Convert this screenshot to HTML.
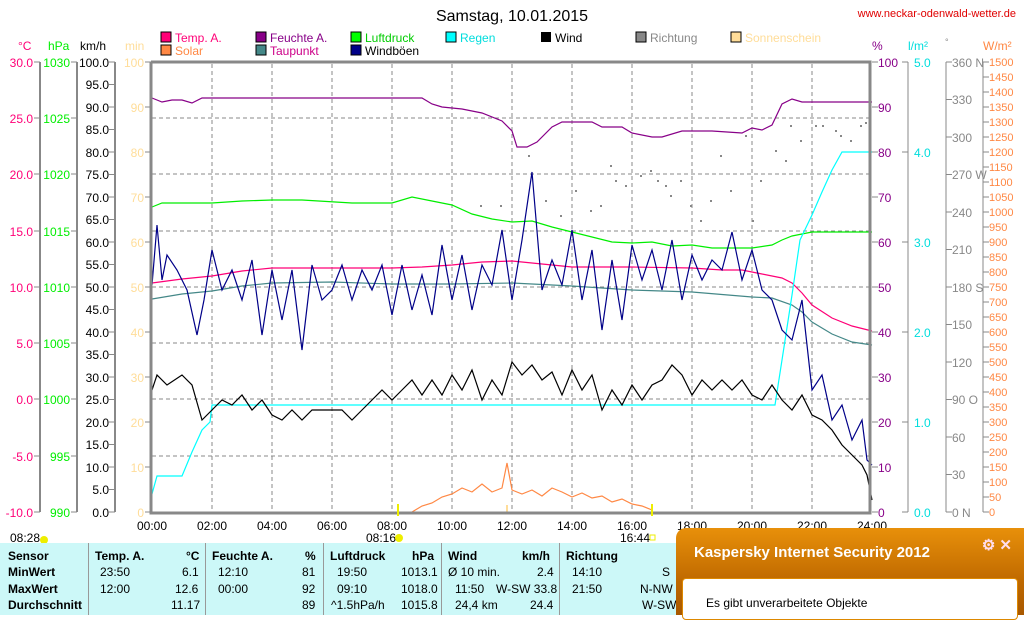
<!DOCTYPE html>
<html><head><meta charset="utf-8"><style>
body{margin:0;width:1024px;height:615px;overflow:hidden;background:#fff;font-family:"Liberation Sans",sans-serif;position:relative}
svg{position:absolute;left:0;top:0}
.tb{position:absolute;left:0;top:543px;width:1024px;height:72px;background:#ccf8f8;font-size:12px}
.tb div{position:absolute}
.b{font-weight:bold}
.kas{position:absolute;left:676px;top:528px;width:348px;height:87px;border-radius:10px 0 0 0;background:linear-gradient(#e8900a,#c06a00 60%,#a85800)}
</style></head><body>
<svg width="1024" height="615" font-family="Liberation Sans, sans-serif" font-size="12">
<text x="512" y="21" font-size="16" text-anchor="middle">Samstag, 10.01.2015</text>
<text x="1016" y="17" font-size="11" fill="#e00000" text-anchor="end">www.neckar-odenwald-wetter.de</text>
<g font-size="12">
<rect x="161" y="32" width="10" height="10" fill="#f07" stroke="#000"/><text x="175" y="42" fill="#f07">Temp. A.</text>
<rect x="161" y="45" width="10" height="10" fill="#f84" stroke="#000"/><text x="175" y="55" fill="#f84">Solar</text>
<rect x="256" y="32" width="10" height="10" fill="#808" stroke="#000"/><text x="270" y="42" fill="#808">Feuchte A.</text>
<rect x="256" y="45" width="10" height="10" fill="#488" stroke="#000"/><text x="270" y="55" fill="#c08">Taupunkt</text>
<rect x="351" y="32" width="10" height="10" fill="#0f0" stroke="#000"/><text x="365" y="42" fill="#0c0">Luftdruck</text>
<rect x="351" y="45" width="10" height="10" fill="#008" stroke="#000"/><text x="365" y="55">Windböen</text>
<rect x="446" y="32" width="10" height="10" fill="#0ff" stroke="#000"/><text x="460" y="42" fill="#0dd">Regen</text>
<rect x="541" y="32" width="10" height="10" fill="#000"/><text x="555" y="42">Wind</text>
<rect x="636" y="32" width="10" height="10" fill="#888" stroke="#000"/><text x="650" y="42" fill="#888">Richtung</text>
<rect x="731" y="32" width="10" height="10" fill="#fd9" stroke="#000"/><text x="745" y="42" fill="#fd9">Sonnenschein</text>
</g>
<!-- axis headers -->
<text x="18" y="50" fill="#f07">°C</text><text x="48" y="50" fill="#0e0">hPa</text><text x="80" y="50">km/h</text><text x="125" y="50" fill="#fd9">min</text>
<text x="872" y="50" fill="#808">%</text><text x="908" y="50" fill="#0dd">l/m²</text><text x="945" y="45" fill="#888" font-size="9">°</text><text x="983" y="50" fill="#f84">W/m²</text>
<!-- grid -->
<g stroke="#888" stroke-dasharray="4,3" stroke-width="1">
<path d="M152 118H870M152 174H870M152 231H870M152 287H870M152 343H870M152 399H870M152 456H870"/>
<path d="M212 64V510M272 64V510M332 64V510M392 64V510M452 64V510M512 64V510M572 64V510M632 64V510M692 64V510M752 64V510M812 64V510"/>
</g>
<!-- left axes -->
<g stroke="#888" stroke-width="2" fill="none">
<path d="M40 62V512M77 62V512M115 62V512"/>
</g>
<g stroke="#888" stroke-width="1">
<path d="M34 62H40M34 118H40M34 174H40M34 231H40M34 287H40M34 343H40M34 399H40M34 456H40M34 512H40"/>
<path d="M71 62H77M71 118H77M71 174H77M71 231H77M71 287H77M71 343H77M71 399H77M71 456H77M71 512H77"/>
<path d="M109 62H115M109 84.5H115M109 107H115M109 129.5H115M109 152H115M109 174.5H115M109 197H115M109 219.5H115M109 242H115M109 264.5H115M109 287H115M109 309.5H115M109 332H115M109 354.5H115M109 377H115M109 399.5H115M109 422H115M109 444.5H115M109 467H115M109 489.5H115M109 512H115"/>
<path d="M145 62H151M145 107H151M145 152H151M145 197H151M145 242H151M145 287H151M145 332H151M145 377H151M145 422H151M145 467H151M145 512H151"/>
</g>
<g fill="#f07" text-anchor="end">
<text x="33" y="67">30.0</text><text x="33" y="123">25.0</text><text x="33" y="179">20.0</text><text x="33" y="236">15.0</text><text x="33" y="292">10.0</text><text x="33" y="348">5.0</text><text x="33" y="404">0.0</text><text x="33" y="461">-5.0</text><text x="33" y="517">-10.0</text></g>
<g fill="#0e0" text-anchor="end">
<text x="70" y="67">1030</text><text x="70" y="123">1025</text><text x="70" y="179">1020</text><text x="70" y="236">1015</text><text x="70" y="292">1010</text><text x="70" y="348">1005</text><text x="70" y="404">1000</text><text x="70" y="461">995</text><text x="70" y="517">990</text></g>
<g text-anchor="end">
<text x="109" y="67">100.0</text><text x="109" y="89">95.0</text><text x="109" y="112">90.0</text><text x="109" y="134">85.0</text><text x="109" y="157">80.0</text><text x="109" y="179">75.0</text><text x="109" y="202">70.0</text><text x="109" y="224">65.0</text><text x="109" y="247">60.0</text><text x="109" y="269">55.0</text><text x="109" y="292">50.0</text><text x="109" y="314">45.0</text><text x="109" y="337">40.0</text><text x="109" y="359">35.0</text><text x="109" y="382">30.0</text><text x="109" y="404">25.0</text><text x="109" y="427">20.0</text><text x="109" y="449">15.0</text><text x="109" y="472">10.0</text><text x="109" y="494">5.0</text><text x="109" y="517">0.0</text></g>
<g fill="#fd9" text-anchor="end">
<text x="144" y="67">100</text><text x="144" y="112">90</text><text x="144" y="157">80</text><text x="144" y="202">70</text><text x="144" y="247">60</text><text x="144" y="292">50</text><text x="144" y="337">40</text><text x="144" y="382">30</text><text x="144" y="427">20</text><text x="144" y="472">10</text><text x="144" y="517">0</text></g>
<!-- right axes -->
<g stroke="#888" stroke-width="1">
<path d="M872 62H878M872 107H878M872 152H878M872 197H878M872 242H878M872 287H878M872 332H878M872 377H878M872 422H878M872 467H878M872 512H878"/>
<path d="M908 62V512M902 62H908M902 152H908M902 242H908M902 332H908M902 422H908M902 512H908"/>
<path d="M946 62V512M946 62H952M946 99.5H952M946 137H952M946 174.5H952M946 212H952M946 249.5H952M946 287H952M946 324.5H952M946 362H952M946 399.5H952M946 437H952M946 474.5H952M946 512H952"/>
<path d="M983 62V512"/>
</g>
<g stroke="#888" id="wt"></g>
<path stroke="#888" d="M983 62h6M983 77h6M983 92h6M983 107h6M983 122h6M983 137h6M983 152h6M983 167h6M983 182h6M983 197h6M983 212h6M983 227h6M983 242h6M983 257h6M983 272h6M983 287h6M983 302h6M983 317h6M983 332h6M983 347h6M983 362h6M983 377h6M983 392h6M983 407h6M983 422h6M983 437h6M983 452h6M983 467h6M983 482h6M983 497h6M983 512h6"/>
<g fill="#808">
<text x="878" y="67">100</text><text x="878" y="112">90</text><text x="878" y="157">80</text><text x="878" y="202">70</text><text x="878" y="247">60</text><text x="878" y="292">50</text><text x="878" y="337">40</text><text x="878" y="382">30</text><text x="878" y="427">20</text><text x="878" y="472">10</text><text x="878" y="517">0</text></g>
<g fill="#0dd">
<text x="914" y="67">5.0</text><text x="914" y="157">4.0</text><text x="914" y="247">3.0</text><text x="914" y="337">2.0</text><text x="914" y="427">1.0</text><text x="914" y="517">0.0</text></g>
<g fill="#888">
<text x="952" y="67">360 N</text><text x="952" y="104">330</text><text x="952" y="142">300</text><text x="952" y="179">270 W</text><text x="952" y="217">240</text><text x="952" y="254">210</text><text x="952" y="292">180 S</text><text x="952" y="329">150</text><text x="952" y="367">120</text><text x="952" y="404">90 O</text><text x="952" y="442">60</text><text x="952" y="479">30</text><text x="952" y="517">0 N</text></g>
<g fill="#f84" font-size="11">
<text x="989" y="66">1500</text><text x="989" y="81">1450</text><text x="989" y="96">1400</text><text x="989" y="111">1350</text><text x="989" y="126">1300</text><text x="989" y="141">1250</text><text x="989" y="156">1200</text><text x="989" y="171">1150</text><text x="989" y="186">1100</text><text x="989" y="201">1050</text><text x="989" y="216">1000</text><text x="989" y="231">950</text><text x="989" y="246">900</text><text x="989" y="261">850</text><text x="989" y="276">800</text><text x="989" y="291">750</text><text x="989" y="306">700</text><text x="989" y="321">650</text><text x="989" y="336">600</text><text x="989" y="351">550</text><text x="989" y="366">500</text><text x="989" y="381">450</text><text x="989" y="396">400</text><text x="989" y="411">350</text><text x="989" y="426">300</text><text x="989" y="441">250</text><text x="989" y="456">200</text><text x="989" y="471">150</text><text x="989" y="486">100</text><text x="989" y="501">50</text><text x="989" y="516">0</text></g>
<!-- direction dots -->
<g fill="#888">
<rect x="528" y="155" width="2" height="2"/><rect x="545" y="200" width="2" height="2"/><rect x="560" y="215" width="2" height="2"/><rect x="575" y="190" width="2" height="2"/><rect x="590" y="210" width="2" height="2"/><rect x="600" y="205" width="2" height="2"/><rect x="610" y="165" width="2" height="2"/><rect x="615" y="180" width="2" height="2"/><rect x="625" y="185" width="2" height="2"/><rect x="640" y="175" width="2" height="2"/><rect x="650" y="170" width="2" height="2"/><rect x="657" y="180" width="2" height="2"/><rect x="665" y="185" width="2" height="2"/><rect x="670" y="195" width="2" height="2"/><rect x="680" y="180" width="2" height="2"/><rect x="690" y="205" width="2" height="2"/><rect x="700" y="220" width="2" height="2"/><rect x="710" y="200" width="2" height="2"/><rect x="720" y="155" width="2" height="2"/><rect x="730" y="190" width="2" height="2"/><rect x="745" y="135" width="2" height="2"/><rect x="752" y="220" width="2" height="2"/><rect x="760" y="180" width="2" height="2"/><rect x="775" y="150" width="2" height="2"/><rect x="785" y="160" width="2" height="2"/><rect x="790" y="125" width="2" height="2"/><rect x="800" y="140" width="2" height="2"/><rect x="815" y="125" width="2" height="2"/><rect x="822" y="125" width="2" height="2"/><rect x="835" y="130" width="2" height="2"/><rect x="840" y="135" width="2" height="2"/><rect x="850" y="140" width="2" height="2"/><rect x="860" y="125" width="2" height="2"/><rect x="865" y="122" width="2" height="2"/><rect x="480" y="205" width="2" height="2"/><rect x="500" y="205" width="2" height="2"/>
</g>
<!-- series -->
<g fill="none" stroke-width="1.2">
<polyline stroke="#808" points="152,98 162,102 172,100 182,100 192,103 202,98 392,98 422,98 432,104 442,107 462,109 482,113 502,121 512,131 517,147 527,147 537,142 552,127 562,122 592,122 602,127 622,127 632,133 652,137 662,137 682,131 712,131 742,133 752,128 762,130 772,125 782,104 792,99 802,102 812,102 822,102 872,102"/>
<polyline stroke="#0e0" points="152,207 162,203 212,203 242,201 272,200 302,200 352,203 392,203 412,197 432,201 452,205 472,214 492,219 512,222 532,221 552,227 572,232 592,237 612,242 632,243 652,242 672,246 692,245 712,248 752,248 772,245 782,240 792,236 812,232 872,232"/>
<polyline stroke="#f07" points="152,283 182,279 212,276 242,271 272,268 392,268 422,267 452,265 482,262 512,261 542,264 572,267 632,267 692,268 722,270 742,270 762,274 782,278 792,283 802,293 812,305 832,318 852,326 872,331"/>
<polyline stroke="#488" points="152,299 182,294 212,291 242,286 272,283 332,282 392,284 452,284 512,283 572,286 632,290 692,292 752,297 772,298 792,305 802,312 812,322 832,334 852,342 872,345"/>
<polyline stroke="#0ff" points="152,494 157,476 182,476 192,452 202,430 210,422 212,405 775,405 782,360 792,295 800,240 812,215 822,192 832,170 842,152 872,152"/>
<polyline stroke="#f84" points="412,512 422,506 432,503 442,497 452,494 462,488 472,492 482,484 492,492 502,488 507,463 512,490 522,494 532,490 542,496 552,488 562,492 572,497 582,493 592,498 602,496 612,502 622,499 632,504 642,506 652,510"/>
<polyline stroke="#008" points="152,285 157,225 162,280 167,255 177,270 187,290 197,335 204,300 212,250 222,290 232,270 242,300 252,260 262,335 272,270 282,320 292,270 302,350 312,265 322,300 332,290 342,265 352,300 362,270 372,290 382,265 392,315 402,265 412,310 422,275 432,315 442,245 452,300 462,255 472,310 482,265 492,285 502,230 512,300 522,240 532,172 542,290 552,260 562,285 572,230 582,300 592,250 602,330 612,260 622,320 632,245 642,280 652,250 662,290 672,240 682,300 692,255 702,280 712,260 722,270 732,232 742,280 752,250 762,290 772,300 782,330 792,340 802,300 812,390 822,375 832,420 842,405 852,440 862,420 867,460 872,465"/>
<polyline stroke="#000" points="152,390 157,375 167,385 182,375 192,385 202,420 212,410 222,400 232,405 242,395 252,410 262,400 272,415 282,420 292,410 302,420 312,410 342,410 352,420 362,410 372,400 382,390 392,400 402,390 412,380 422,395 432,380 442,395 452,375 462,390 472,370 482,400 492,380 502,395 512,362 522,375 532,365 542,380 552,372 562,395 572,370 582,390 592,375 602,410 612,390 622,405 632,385 642,400 652,385 662,380 672,365 682,375 692,395 702,380 712,390 722,380 732,390 742,380 752,395 762,400 772,385 782,400 792,410 802,395 812,415 822,420 832,430 842,445 852,455 862,465 867,475 872,500"/>
</g>
<g stroke="#fd9" stroke-width="2"><path d="M507 505V512"/></g>
<!-- plot border -->
<path d="M151 62V513H870V62H151" fill="none" stroke="#888" stroke-width="3"/>
<g stroke="#ee0" stroke-width="2"><path d="M398 504V516M652 504V516"/></g>
<g text-anchor="middle">
<text x="152" y="530">00:00</text><text x="212" y="530">02:00</text><text x="272" y="530">04:00</text><text x="332" y="530">06:00</text><text x="392" y="530">08:00</text><text x="452" y="530">10:00</text><text x="512" y="530">12:00</text><text x="572" y="530">14:00</text><text x="632" y="530">16:00</text><text x="692" y="530">18:00</text><text x="752" y="530">20:00</text><text x="812" y="530">22:00</text><text x="872" y="530">24:00</text></g>
<text x="10" y="542">08:28</text><circle cx="44" cy="540" r="4" fill="#ee0"/>
<text x="366" y="542">08:16</text><circle cx="399" cy="538" r="4" fill="#ee0"/>
<text x="620" y="542">16:44</text><rect x="650" y="535" width="5" height="5" fill="none" stroke="#ee0"/>
</svg>
<div class="tb">
<div style="left:88px;top:0;width:1px;height:72px;background:#999"></div>
<div style="left:205px;top:0;width:1px;height:72px;background:#999"></div>
<div style="left:323px;top:0;width:1px;height:72px;background:#999"></div>
<div style="left:441px;top:0;width:1px;height:72px;background:#999"></div>
<div style="left:559px;top:0;width:1px;height:72px;background:#999"></div>
<div class="b" style="left:8px;top:6px">Sensor</div><div class="b" style="left:8px;top:22px">MinWert</div><div class="b" style="left:8px;top:39px">MaxWert</div><div class="b" style="left:8px;top:55px">Durchschnitt</div>
<div class="b" style="left:95px;top:6px">Temp. A.</div><div class="b" style="left:186px;top:6px">°C</div>
<div style="left:100px;top:22px">23:50</div><div style="left:182px;top:22px">6.1</div>
<div style="left:100px;top:39px">12:00</div><div style="left:175px;top:39px">12.6</div>
<div style="left:171px;top:55px">11.17</div>
<div class="b" style="left:212px;top:6px">Feuchte A.</div><div class="b" style="left:305px;top:6px">%</div>
<div style="left:218px;top:22px">12:10</div><div style="left:302px;top:22px">81</div>
<div style="left:218px;top:39px">00:00</div><div style="left:302px;top:39px">92</div>
<div style="left:302px;top:55px">89</div>
<div class="b" style="left:330px;top:6px">Luftdruck</div><div class="b" style="left:412px;top:6px">hPa</div>
<div style="left:337px;top:22px">19:50</div><div style="left:401px;top:22px">1013.1</div>
<div style="left:337px;top:39px">09:10</div><div style="left:401px;top:39px">1018.0</div>
<div style="left:331px;top:55px">^1.5hPa/h</div><div style="left:401px;top:55px">1015.8</div>
<div class="b" style="left:448px;top:6px">Wind</div><div class="b" style="left:522px;top:6px">km/h</div>
<div style="left:448px;top:22px">Ø 10 min.</div><div style="left:537px;top:22px">2.4</div>
<div style="left:455px;top:39px">11:50</div><div style="left:496px;top:39px">W-SW 33.8</div>
<div style="left:455px;top:55px">24,4 km</div><div style="left:530px;top:55px">24.4</div>
<div class="b" style="left:566px;top:6px">Richtung</div>
<div style="left:572px;top:22px">14:10</div><div style="left:662px;top:22px">S</div>
<div style="left:572px;top:39px">21:50</div><div style="left:640px;top:39px">N-NW</div>
<div style="left:642px;top:55px">W-SW</div>
</div>
<div class="kas">
<div style="position:absolute;left:18px;top:16px;color:#fff;font-size:15px;font-weight:bold">Kaspersky Internet Security 2012</div>
<div style="position:absolute;right:12px;top:8px;color:#fde;font-size:15px;font-weight:bold">⚙ ✕</div>
<div style="position:absolute;left:6px;top:50px;right:6px;height:40px;background:#fff;border-radius:4px;border:1px solid #d80"></div>
<div style="position:absolute;left:30px;top:68px;font-size:12px">Es gibt unverarbeitete Objekte</div>
</div>
</body></html>
